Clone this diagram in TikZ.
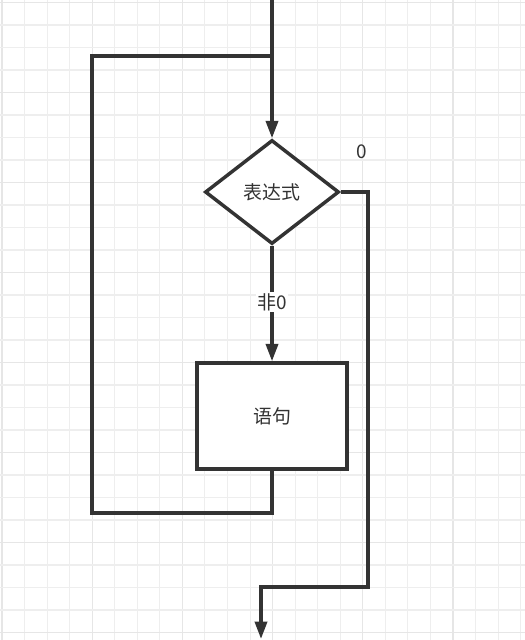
\documentclass[tikz,border=0pt]{standalone}
\usepackage{fontspec}
\newfontfamily\cjk{Noto Sans CJK SC}
\usetikzlibrary{shapes.geometric,arrows.meta}
\definecolor{ink}{HTML}{333333}
\definecolor{gridminor}{HTML}{EEEEEE}
\definecolor{gridmajor}{HTML}{E6E6E6}
\tikzset{
  flow/.style={draw=ink, line width=2.6pt, line join=miter},
  arr/.style={flow, -{Triangle[length=13pt,width=9pt]}},
  txt/.style={font=\cjk\fontsize{14.2pt}{16pt}\selectfont, text=ink},
  decision/.style={diamond, flow, fill=white, inner sep=0pt, aspect=1.29,
    minimum width=100.5pt, minimum height=78pt, txt},
  stepbox/.style={rectangle, flow, fill=white, minimum width=112.5pt,
    minimum height=79.5pt, txt},
  edgelabel/.style={txt, fill=white, inner sep=1pt}
}
\begin{document}
\begin{tikzpicture}[x=0.75pt,y=-0.75pt]
\useasboundingbox (0,0) rectangle (525,640);
\fill[white] (0,0) rectangle (525,640);
% grid
\foreach \k in {0,...,23}{
  \pgfmathtruncatemacro{\m}{mod(\k,4)}
  \ifnum\m=0
    \draw[gridmajor, line width=0.8pt] ({2+22.55*\k},0) -- ({2+22.55*\k},640);
  \else
    \draw[gridminor, line width=0.8pt] ({2+22.55*\k},0) -- ({2+22.55*\k},640);
  \fi
}
\foreach \k in {0,...,28}{
  \pgfmathtruncatemacro{\m}{mod(\k,4)}
  \ifnum\m=0
    \draw[gridmajor, line width=0.8pt] (0,{2.5+22.5*\k}) -- (525,{2.5+22.5*\k});
  \else
    \draw[gridminor, line width=0.8pt] (0,{2.5+22.5*\k}) -- (525,{2.5+22.5*\k});
  \fi
}
% nodes
\node[decision] (d) at (272,192) {表达式};
\node[stepbox] (s) at (272,416) {语句};
\node[txt] (zero) at (362,152) {0};
\coordinate (top) at (272,-2);
\coordinate (j) at (272,56);
\coordinate (tl) at (92,56);
\coordinate (bl) at (92,513);
\coordinate (bm) at (272,513);
\coordinate (r1) at (368,192);
\coordinate (r2) at (368,587);
\coordinate (r3) at (261,587);
\coordinate (out) at (261,639);
% connectors
\draw[arr] (top) -- (d.north);
\draw[flow] (s.south) -- (bm) -- (bl) -- (tl) -- (j);
\draw[arr] (d.south) -- node[edgelabel, pos=0.49] (nz) {非0} (s.north);
\draw[arr] (d.east) -- (r1) -- (r2) -- (r3) -- (out);
\end{tikzpicture}
\end{document}
